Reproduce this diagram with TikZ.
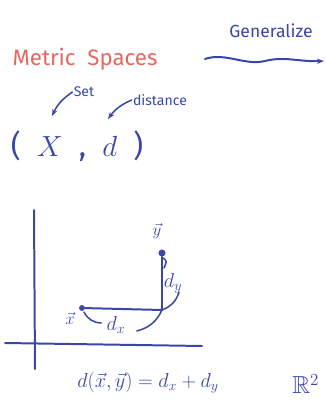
\documentclass[tikz,border=0pt]{standalone}
\usepackage{amssymb}
\usepackage{amsmath}
\usepackage{fontspec}
\setmainfont{Fira Sans}
\usepackage{tikz}
\usetikzlibrary{calc, positioning, arrows.meta}

\definecolor{ink}{HTML}{3B46A6}
\definecolor{redink}{HTML}{E5675F}

\tikzset{
	pen/.style={draw=ink, line width=1.7pt, line cap=round},
	thinpen/.style={draw=ink, line width=1.3pt, line cap=round},
	hand/.style={text=ink, inner sep=1pt},
	dot/.style={circle, fill=ink, inner sep=0pt, minimum size=6pt}
}

\begin{document}
\begin{tikzpicture}[x=0.03cm, y=-0.03cm]

		\useasboundingbox (0,0) rectangle (325,400);

		% nodes - top half %
		\node[text=redink, font=\fontsize{19}{22}\selectfont] (metric) at (85,59) {Metric\ \ Spaces};
		\node[hand, font=\fontsize{15}{18}\selectfont] (gen) at (271,31) {Generalize};
		\node[hand, font=\fontsize{12}{14}\selectfont] (set) at (84,92) {Set};
		\node[hand, font=\fontsize{12}{14}\selectfont] (dist) at (160,100) {distance};
		\node[hand, font=\fontsize{26}{30}\selectfont] (pair) at (77,146) {(\ \ $X$\ \ ,\ \ $d$\ \ )};
		\coordinate (wstart) at (205,59);
		\coordinate (wend) at (324,61);
		\coordinate (xtip) at (52,116);
		\coordinate (dtip) at (108,119);

		% edges - top half %
		\draw[pen, -{Stealth[length=6pt]}] (wstart) .. controls (225,52) and (245,66) .. (265,61) .. controls (285,56) and (300,62) .. (wend);
		\draw[thinpen, -{Stealth[length=6pt]}] (set.west) to[bend right=15] (xtip);
		\draw[thinpen, -{Stealth[length=6pt]}] (dist.west) to[bend right=15] (dtip);

		% nodes - plane %
		\coordinate (vtop) at (34,210);
		\coordinate (vbot) at (35,369);
		\coordinate (hleft) at (5,343);
		\coordinate (hright) at (202,346);
		\node[dot] (ypt) at (162,253) {};
		\node[dot, minimum size=5pt] (xpt) at (82,308) {};
		\coordinate (corner) at (162,310);
		\node[hand, font=\fontsize{15}{17}\selectfont] (ylab) at (157,231) {$\vec{y}$};
		\node[hand, font=\fontsize{15}{17}\selectfont] (xlab) at (70,318) {$\vec{x}$};
		\node[hand, font=\fontsize{17}{19}\selectfont] (dy) at (173,283) {$d_y$};
		\node[hand, font=\fontsize{17}{19}\selectfont] (dx) at (116,325) {$d_x$};
		\node[hand, font=\fontsize{18}{21}\selectfont] (formula) at (148,383) {$d(\vec{x},\vec{y}) = d_x + d_y$};
		\node[hand, font=\fontsize{21}{24}\selectfont, anchor=west] (rtwo) at (291,384) {$\mathbb{R}^2$};

		% edges - plane %
		\draw[pen] (vtop) -- (vbot);
		\draw[pen] (hleft) -- (hright);
		\draw[pen] (ypt) -- (corner);
		\draw[pen] (xpt) -- (corner);
		\draw[thinpen] ($(ypt)+(1,5)$) .. controls ($(ypt)+(5,8)$) .. ($(ypt)+(2,15)$);
		\draw[thinpen] ($(dy.south)+(6,-2)$) to[bend left=25] (corner);
		\draw[thinpen] ($(xpt)+(2,4)$) to[bend right=30] ($(dx.west)+(-4,-2)$);
		\draw[thinpen] ($(dx.east)+(10,6)$) to[bend right=25] (corner);

		\end{tikzpicture}
\end{document}
